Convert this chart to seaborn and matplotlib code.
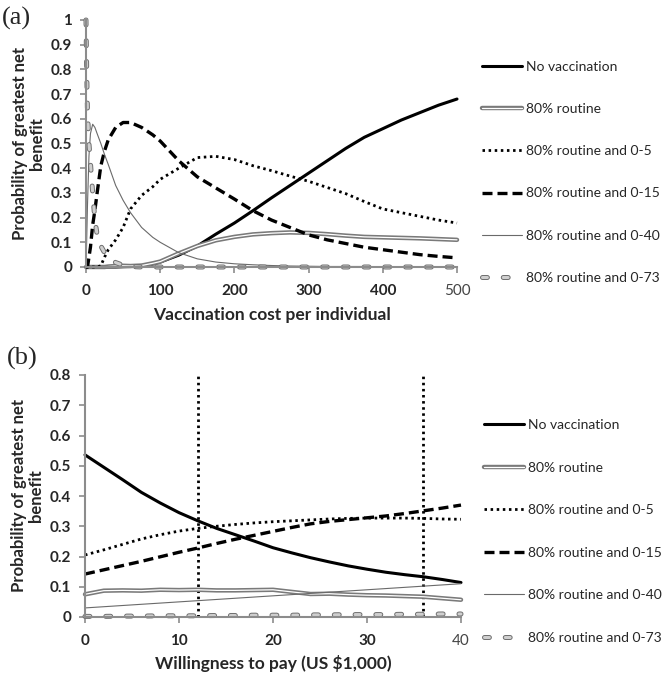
import matplotlib
matplotlib.use("Agg")
import matplotlib.pyplot as plt
import matplotlib.patheffects as pe
import seaborn as sns

# ---- panel (a): probability vs vaccination cost per individual ----
cost = [0, 1, 2, 4, 6, 9, 12, 15, 20, 25, 30, 40, 50, 60, 75, 90, 100,
        125, 150, 175, 200, 225, 250, 275, 300, 325, 350, 375, 400, 425, 450, 475, 500]
a_no_vacc = [0, 0, 0, 0, 0, 0, 0, 0, 0, 0, 0, 0, 0.001, 0.002, 0.005, 0.012, 0.02,
             0.048, 0.085, 0.133, 0.178, 0.228, 0.28, 0.33, 0.38, 0.43, 0.48, 0.525, 0.56, 0.595, 0.625, 0.655, 0.68]
a_routine = [0, 0, 0, 0, 0, 0, 0, 0, 0, 0, 0.002, 0.004, 0.005, 0.004, 0.006, 0.015, 0.022,
             0.055, 0.085, 0.108, 0.122, 0.132, 0.137, 0.14, 0.138, 0.133, 0.127, 0.122, 0.12, 0.118, 0.116, 0.113, 0.11]
a_r05 = [0, 0, 0, 0, 0, 0, 0, 0, 0.005, 0.04, 0.07, 0.11, 0.16, 0.235, 0.29, 0.325, 0.355,
         0.40, 0.443, 0.448, 0.435, 0.41, 0.39, 0.368, 0.347, 0.322, 0.297, 0.265, 0.235, 0.22, 0.205, 0.19, 0.178]
a_r015 = [0, 0, 0, 0.04, 0.08, 0.17, 0.23, 0.30, 0.41, 0.47, 0.515, 0.565, 0.585, 0.585, 0.565, 0.535, 0.51,
          0.43, 0.365, 0.32, 0.275, 0.228, 0.19, 0.16, 0.13, 0.11, 0.095, 0.08, 0.07, 0.06, 0.05, 0.043, 0.037]
a_r040 = [0, 0.12, 0.25, 0.45, 0.54, 0.578, 0.565, 0.54, 0.50, 0.455, 0.415, 0.33, 0.27, 0.22, 0.16, 0.12, 0.10,
          0.058, 0.033, 0.02, 0.013, 0.009, 0.006, 0.004, 0.003, 0.002, 0.002, 0.002, 0.001, 0.001, 0.001, 0.001, 0.001]
a_r073 = [1.0, 0.78, 0.63, 0.50, 0.42, 0.30, 0.19, 0.13, 0.085, 0.058, 0.04, 0.018, 0.007, 0.002, 0, 0, 0,
          0, 0, 0, 0, 0, 0, 0, 0, 0, 0, 0, 0, 0, 0, 0, 0]

# ---- panel (b): probability vs willingness to pay ----
wtp = [0, 2, 4, 6, 8, 10, 12, 14, 16, 18, 20, 22, 24, 26, 28, 30, 32, 34, 36, 38, 40]
b_no_vacc = [0.536, 0.495, 0.454, 0.412, 0.377, 0.345, 0.318, 0.293, 0.272, 0.251, 0.229,
             0.212, 0.196, 0.182, 0.169, 0.158, 0.148, 0.14, 0.133, 0.124, 0.114]
b_routine = [0.075, 0.087, 0.088, 0.087, 0.09, 0.089, 0.09, 0.088, 0.088, 0.089, 0.09,
             0.083, 0.076, 0.077, 0.074, 0.072, 0.071, 0.069, 0.067, 0.062, 0.057]
b_r05 = [0.205, 0.222, 0.24, 0.258, 0.272, 0.284, 0.293, 0.3, 0.306, 0.311, 0.315,
         0.318, 0.321, 0.324, 0.326, 0.327, 0.327, 0.327, 0.326, 0.324, 0.323]
b_r015 = [0.142, 0.156, 0.17, 0.184, 0.199, 0.214, 0.228, 0.243, 0.257, 0.27, 0.283,
          0.296, 0.308, 0.316, 0.322, 0.328, 0.334, 0.342, 0.351, 0.36, 0.37]
b_r040 = [0.03, 0.034, 0.038, 0.042, 0.046, 0.05, 0.054, 0.058, 0.062, 0.066, 0.07,
          0.074, 0.078, 0.082, 0.086, 0.09, 0.094, 0.098, 0.102, 0.106, 0.11]
b_r073 = [0.002, 0.002, 0.003, 0.003, 0.004, 0.004, 0.004, 0.005, 0.005, 0.006, 0.006,
          0.006, 0.007, 0.007, 0.008, 0.008, 0.008, 0.009, 0.009, 0.010, 0.010]
wtp_thresholds = [12, 36]

series_names = ["No vaccination", "80% routine", "80% routine and 0-5",
                "80% routine and 0-15", "80% routine and 0-40", "80% routine and 0-73"]
cost_ticks = [0, 100, 200, 300, 400, 500]
wtp_ticks = [0, 10, 20, 30, 40]
a_yticks = [0, 0.1, 0.2, 0.3, 0.4, 0.5, 0.6, 0.7, 0.8, 0.9, 1]
b_yticks = [0, 0.1, 0.2, 0.3, 0.4, 0.5, 0.6, 0.7, 0.8]

styles = [
    dict(color="black", linewidth=2.2),
    dict(color="white", linewidth=0.9,
         path_effects=[pe.Stroke(linewidth=3.2, foreground="#7a7a7a"), pe.Normal()]),
    dict(color="black", linewidth=2.0, linestyle=(0, (0.9, 1.3))),
    dict(color="black", linewidth=2.4, linestyle=(0, (3.0, 1.5))),
    dict(color="#6a6a6a", linewidth=0.8),
    dict(color="#cfcfcf", linewidth=2.2, linestyle=(0, (1.6, 5.2)), dash_capstyle="round",
         path_effects=[pe.Stroke(linewidth=3.6, foreground="#6e6e6e", capstyle="round"), pe.Normal()]),
]

sns.set_style("ticks")
plt.rcParams["font.family"] = ["Lato", "DejaVu Sans"]

fig = plt.figure(figsize=(6.67, 6.73), dpi=100)
W, H = 667, 673
ax_a = fig.add_axes([86 / W, 1 - 267 / H, (457 - 86) / W, (267 - 20) / H])
ax_b = fig.add_axes([85 / W, 1 - 617 / H, (461 - 85) / W, (617 - 375) / H])


def draw_panel(ax, x, ys, xticks, yticks, xlabel, leg_anchor, spacing, xlabelpad, ylab_x):
    for name, y, st in zip(series_names, ys, styles):
        sns.lineplot(x=x, y=y, ax=ax, label=name, clip_on=False, **st)
    ax.set_xlim(xticks[0], xticks[-1])
    ax.set_ylim(yticks[0], yticks[-1])
    ax.set_xticks(xticks)
    ax.set_yticks(yticks)
    ax.set_xticklabels([str(t) for t in xticks], fontweight="bold")
    ax.set_yticklabels([f"{t:g}" for t in yticks], fontweight="bold")
    last = ax.get_xticklabels()[-1]
    last.set_fontweight("normal")
    last.set_color("#444444")
    ax.tick_params(axis="both", direction="out", length=4, width=1.2,
                   color="#8c8c8c", labelsize=11)
    ax.tick_params(axis="x", pad=8)
    ax.tick_params(axis="y", pad=6)
    for s in ["top", "right"]:
        ax.spines[s].set_visible(False)
    for s in ["left", "bottom"]:
        ax.spines[s].set_color("#8c8c8c")
        ax.spines[s].set_linewidth(1.5)
    ax.set_xlabel(xlabel, fontsize=12.5, fontweight="bold", labelpad=xlabelpad)
    ax.set_ylabel("Probability of greatest net\nbenefit", fontsize=12,
                  fontweight="bold", linespacing=1.1)
    ax.yaxis.set_label_coords(ylab_x, 0.5)
    ax.legend(loc="upper left", bbox_to_anchor=leg_anchor, bbox_transform=fig.transFigure,
              frameon=False, fontsize=10, handlelength=2.9, handletextpad=0.3,
              labelspacing=spacing, borderpad=0, borderaxespad=0)


draw_panel(ax_a, cost, [a_no_vacc, a_routine, a_r05, a_r015, a_r040, a_r073],
           cost_ticks, a_yticks, "Vaccination cost per individual", (482 / W, 1 - 61 / H),
           2.17, 7, -0.11)
draw_panel(ax_b, wtp, [b_no_vacc, b_routine, b_r05, b_r015, b_r040, b_r073],
           wtp_ticks, b_yticks, "Willingness to pay (US $1,000)", (484 / W, 1 - 419 / H),
           2.2, 5, -0.108)

for xv in wtp_thresholds:
    ax_b.axvline(xv, color="black", linewidth=2.0, linestyle=(0, (0.9, 1.3)), zorder=1)

fig.text(2 / W, 1 - 18 / H, "(a)", family="Liberation Serif", fontsize=19, va="center")
fig.text(7 / W, 1 - 358 / H, "(b)", family="Liberation Serif", fontsize=19, va="center")

fig.savefig("out.png", dpi=100)
